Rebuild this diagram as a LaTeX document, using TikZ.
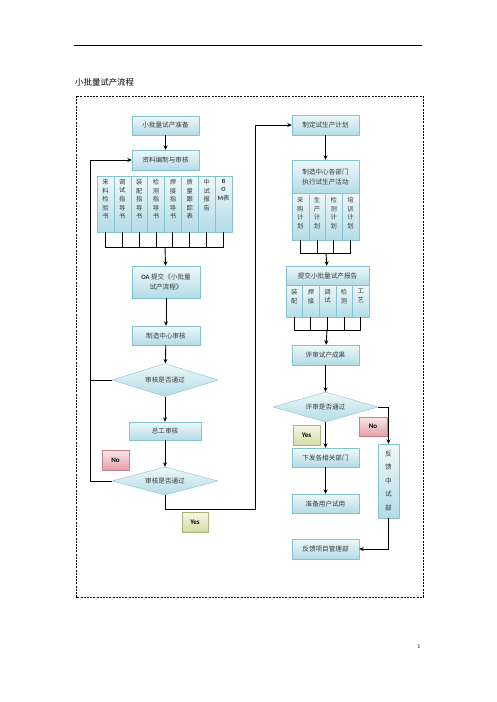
\documentclass[tikz,border=0pt]{standalone}
\usepackage{fontspec}
\newfontfamily\cjk{Noto Sans CJK SC}
\newfontfamily\latf{Carlito}
\usetikzlibrary{arrows.meta,shapes.geometric}
\definecolor{boxline}{HTML}{86C2D0}
\definecolor{boxtop}{HTML}{EEF8FA}
\definecolor{boxbot}{HTML}{B3DCE6}
\definecolor{notop}{HTML}{FBE6E8}
\definecolor{nobot}{HTML}{E2A1A8}
\definecolor{noline}{HTML}{C98189}
\definecolor{yestop}{HTML}{F6F8E8}
\definecolor{yesbot}{HTML}{D4DAA6}
\definecolor{yesline}{HTML}{ADB279}
\definecolor{txt}{HTML}{3A3A3A}
\newcommand{\bomb}[1]{{\latf\bfseries #1}}

\begin{document}
\begin{tikzpicture}[x=1pt,y=-1pt,
  box/.style={draw=boxline,top color=boxtop,bottom color=boxbot,minimum width=67pt,minimum height=19pt,inner sep=1pt,text=txt,font=\cjk\fontsize{6.6}{10}\selectfont},
  col/.style={draw=boxline,top color=boxtop,bottom color=boxbot,inner sep=0pt},
  coltext/.style={inner sep=0pt,align=center,text=txt,font=\cjk\fontsize{6.3}{8.6}\selectfont},
  dec/.style={diamond,draw=boxline,top color=boxtop,bottom color=boxbot,aspect=3.2,inner sep=0pt,text=txt,font=\cjk\fontsize{6.6}{10}\selectfont},
  nolab/.style={draw=noline,top color=notop,bottom color=nobot,minimum width=27pt,minimum height=20pt,inner sep=0pt,font=\latf\bfseries\fontsize{7}{8}\selectfont},
  yeslab/.style={draw=yesline,top color=yestop,bottom color=yesbot,minimum width=26pt,minimum height=20pt,inner sep=0pt,font=\latf\bfseries\fontsize{7}{8}\selectfont},
  line/.style={line width=0.9pt},
  arr/.style={line width=0.9pt,-{Stealth[length=4.5pt,width=4pt]}}
]
\useasboundingbox[fill=white] (0,0) rectangle (496,702);

% page head
\coordinate (hl) at (74,45);
\coordinate (hr) at (422,45);
\draw[line width=1pt] (hl) -- (hr);
\node[anchor=west,inner sep=0pt,font=\cjk\fontsize{8.4}{10}\selectfont] (title) at (75,82) {小批量试产流程};
\draw[line width=0.8pt,dash pattern=on 2pt off 1.2pt] (76,96) rectangle (423,597);
\node[inner sep=0pt,font=\fontsize{6}{7}\selectfont] (pageno) at (419,646) {1};

% left column
\node[box] (prep) at (165.5,125.5) {小批量试产准备};
\node[box,minimum height=20pt] (edit) at (165.5,160) {资料编制与审核};
\coordinate (lbus) at (165,247);
\foreach \t [count=\i from 0] in {来\\料\\检\\验\\书,调\\试\\指\\导\\书,装\\配\\指\\导\\书,检\\测\\指\\导\\书,焊\\接\\指\\导\\书,质\\量\\跟\\踪\\表,中\\试\\报\\告,\bomb{B}\\\bomb{O}\\\bomb{M}表}{
  \node[col,minimum width=16.875pt,minimum height=56pt,anchor=north] (lc\i) at (105.44+16.875*\i,176) {};
  \node[coltext,anchor=north] at ([yshift=-3pt]lc\i.north) {\t};
  \draw[line] (lc\i.south) -- (lc\i.south |- lbus);
}
\draw[line] (lc0.south |- lbus) -- (lc7.south |- lbus);
\node[box,minimum width=68pt,minimum height=32pt,align=center] (oa) at (166,282) {\bomb{OA} 提交《小批量\\试产流程》};
\node[box,minimum width=68pt] (mfg) at (166,335.5) {制造中心审核};
\node[dec,minimum width=106pt,minimum height=33pt] (d1) at (165,380) {审核是否通过};
\node[box,minimum width=72pt,minimum height=18pt] (chief) at (165,431) {总工审核};
\node[dec,minimum width=106pt,minimum height=28pt] (d2) at (165,481) {审核是否通过};
\node[nolab] (no1) at (115.5,460) {No};
\node[yeslab] (yes1) at (195,522) {Yes};

\draw[arr] (prep) -- (edit);
\draw[arr] (lbus) -- (oa);
\draw[arr] (oa) -- (mfg);
\draw[arr] (mfg) -- (d1);
\draw[arr] (d1) -- (chief);
\draw[arr] (chief) -- (d2);
\coordinate (loop) at (90,481);
\draw[arr] (d2.west) -- (loop) |- (edit.west);
\draw[line] (d1.west) -- (d1.west -| loop);

% right column
\node[box,minimum height=20pt] (plan) at (325.5,125) {制定试生产计划};
\coordinate (yesturn) at (255,509);
\draw[arr] (d2.south) |- (yesturn) |- (plan.west);
\node[box,minimum height=33pt,align=center] (exec) at (325.5,176.5) {制造中心各部门\\执行试生产活动};
\coordinate (rbus) at (326,253);
\foreach \t [count=\i from 0] in {采\\购\\计\\划,生\\产\\计\\划,检\\测\\计\\划,培\\训\\计\\划}{
  \node[col,minimum width=16.75pt,minimum height=47pt,anchor=north] (rc\i) at (300.375+16.75*\i,193) {};
  \node[coltext,anchor=north] at ([yshift=-4pt]rc\i.north) {\t};
  \draw[line] (rc\i.south) -- (rc\i.south |- rbus);
}
\draw[line] (rc0.south |- rbus) -- (rc3.south |- rbus);
\node[box,minimum width=83pt,minimum height=19pt] (rep) at (327.5,275.5) {提交小批量试产报告};
\coordinate (pbus) at (327,330);
\foreach \t [count=\i from 0] in {装\\配,焊\\接,调\\试,检\\测,工\\艺}{
  \node[col,minimum width=16.6pt,minimum height=32pt,anchor=north] (pc\i) at (294.3+16.6*\i,285) {};
  \node[coltext,anchor=north] at ([yshift=-4pt]pc\i.north) {\t};
  \draw[line] (pc\i.south) -- (pc\i.south |- pbus);
}
\draw[line] (pc0.south |- pbus) -- (pc4.south |- pbus);
\node[box,minimum height=20pt] (review) at (325.5,355) {评审试产成果};
\node[dec,minimum width=105pt,minimum height=30pt] (d3) at (325.5,407) {评审是否通过};
\node[box] (issue) at (325.5,457.5) {下发各相关部门};
\node[box] (user) at (325.5,503.5) {准备用户试用};
\node[box,minimum height=20pt] (fbpm) at (325.5,549) {反馈项目管理部};
\node[box,minimum width=21pt,minimum height=74pt,align=center,font=\cjk\fontsize{6.6}{13.5}\selectfont] (fbtrial) at (388.5,481) {反\\馈\\中\\试\\部};
\node[yeslab,minimum width=27pt] (yes2) at (306.5,435) {Yes};
\node[nolab,minimum width=28pt,minimum height=19pt] (no2) at (373,426.5) {No};

\draw[arr] (plan) -- (exec);
\draw[arr] (rbus) -- (rep);
\draw[arr] (pbus) -- (review);
\draw[arr] (review) -- (d3);
\draw[arr] (d3) -- (issue);
\draw[arr] (issue) -- (user);
\draw[arr] (d3.east) -| (fbtrial.north);
\draw[arr] (fbtrial.south) |- (fbpm.east);
\end{tikzpicture}
\end{document}
